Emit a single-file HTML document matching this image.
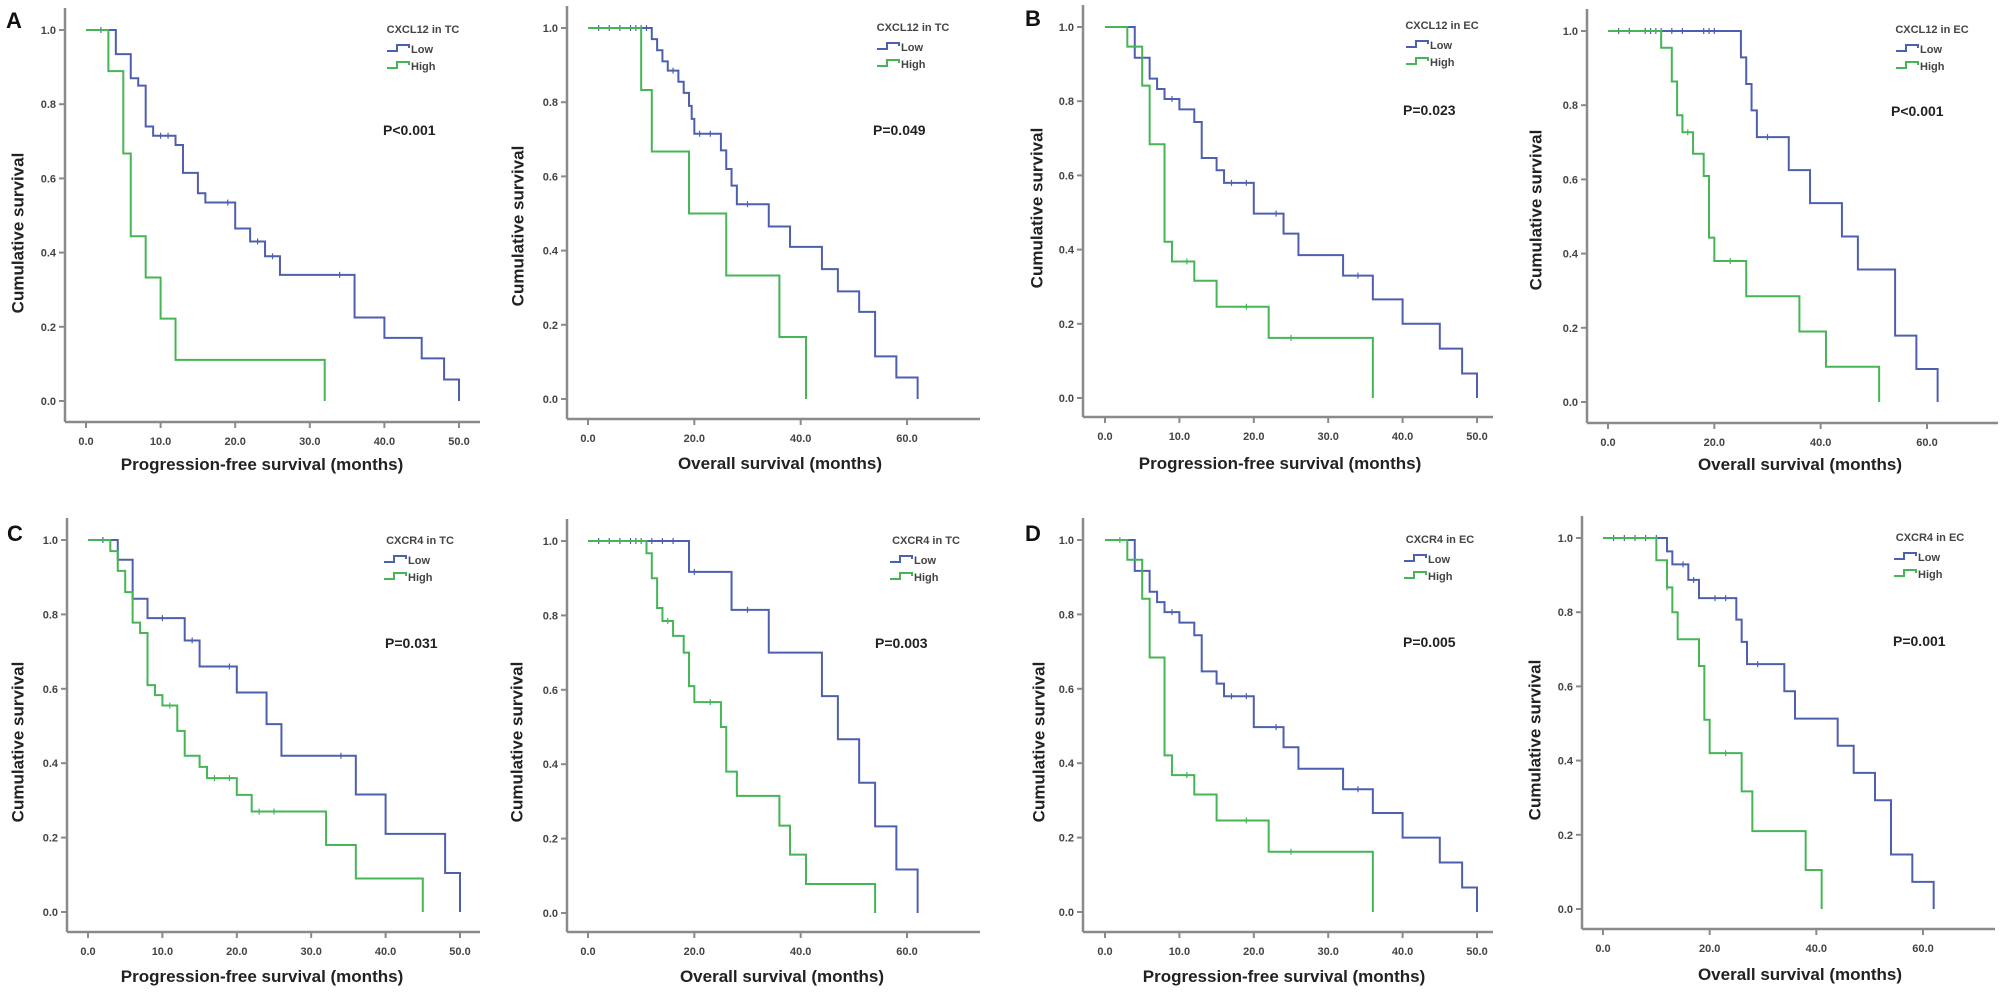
<!DOCTYPE html>
<html><head><meta charset="utf-8">
<style>
html,body{margin:0;padding:0;background:#fff;}
svg{display:block;}
text{font-family:"Liberation Sans",Arial,sans-serif;}
</style></head>
<body>
<svg id="fig" width="2008" height="992" viewBox="0 0 2008 992" xmlns="http://www.w3.org/2000/svg"></svg>
<script>
// ---- data: event times (months) and survival after each drop; censor times ----
const aPfsLowT=[4,6,7,8,9,12,13,15,16,20,22,24,26,36,40,45,48,50];
const aPfsLowS=[0.935,0.87,0.85,0.74,0.715,0.69,0.615,0.56,0.535,0.465,0.43,0.39,0.34,0.225,0.17,0.115,0.058,0];
const aPfsLowC=[2,10,11,19,23,25,34];
const aPfsHighT=[3,5,6,8,10,12,32];
const aPfsHighS=[0.889,0.667,0.444,0.333,0.222,0.111,0];
const aPfsHighC=[];
const aOsLowT=[12,13,14,15,17,18,19,19.5,20,25,26,27,28,34,38,44,47,51,54,58,62];
const aOsLowS=[0.97,0.94,0.91,0.885,0.855,0.825,0.79,0.755,0.715,0.67,0.62,0.575,0.525,0.465,0.41,0.35,0.29,0.235,0.115,0.058,0];
const aOsLowC=[2,4,6,8,9,10,11,16,21,23,30];
const aOsHighT=[10,12,19,26,36,41];
const aOsHighS=[0.833,0.667,0.5,0.333,0.167,0];
const aOsHighC=[];
const bPfsLowT=[4,6,7,8,10,12,13,15,16,20,24,26,32,36,40,45,48,50];
const bPfsLowS=[0.917,0.861,0.833,0.806,0.778,0.744,0.647,0.614,0.58,0.497,0.443,0.385,0.33,0.266,0.2,0.133,0.066,0];
const bPfsLowC=[9,17,19,23,34];
const bPfsHighT=[3,5,6,8,9,12,15,22,36];
const bPfsHighS=[0.947,0.842,0.684,0.421,0.368,0.316,0.246,0.162,0];
const bPfsHighC=[11,19,25];
const bOsLowT=[25,26,27,28,34,38,44,47,54,58,62];
const bOsLowS=[0.929,0.857,0.786,0.714,0.625,0.536,0.446,0.357,0.179,0.089,0];
const bOsLowC=[2,4,7,8,9,10,12,14,18,19,20,30];
const bOsHighT=[10,12,13,14,16,18,19,20,26,36,41,51];
const bOsHighS=[0.955,0.864,0.773,0.727,0.669,0.609,0.443,0.38,0.285,0.19,0.095,0];
const bOsHighC=[15,23];
const cPfsLowT=[4,6,8,13,15,20,24,26,36,40,48,50];
const cPfsLowS=[0.947,0.842,0.79,0.73,0.66,0.59,0.505,0.42,0.316,0.21,0.105,0];
const cPfsLowC=[2,10,14,19,34];
const cPfsHighT=[3,4,5,6,7,8,9,10,12,13,15,16,20,22,32,36,45];
const cPfsHighS=[0.97,0.917,0.86,0.778,0.75,0.61,0.583,0.555,0.487,0.42,0.39,0.36,0.315,0.27,0.18,0.09,0];
const cPfsHighC=[11,17,19,23,25];
const cOsLowT=[19,27,34,44,47,51,54,58,62];
const cOsLowS=[0.917,0.815,0.7,0.583,0.467,0.35,0.233,0.117,0];
const cOsLowC=[2,4,6,8,9,10,12,14,16,20,30];
const cOsHighT=[11,12,13,14,16,18,19,20,25,26,28,36,38,41,54];
const cOsHighS=[0.967,0.9,0.82,0.785,0.745,0.7,0.61,0.567,0.5,0.38,0.315,0.235,0.157,0.078,0];
const cOsHighC=[10,15,23];
const dPfsLowT=[4,6,7,8,10,12,13,15,16,20,24,26,32,36,40,45,48,50];
const dPfsLowS=[0.917,0.861,0.833,0.806,0.778,0.744,0.647,0.614,0.58,0.497,0.443,0.385,0.33,0.266,0.2,0.133,0.066,0];
const dPfsLowC=[9,17,19,23,34];
const dPfsHighT=[3,5,6,8,9,12,15,22,36];
const dPfsHighS=[0.947,0.842,0.684,0.421,0.368,0.316,0.246,0.162,0];
const dPfsHighC=[2,11,19,25];
const dOsLowT=[12,13,16,18,25,26,27,34,36,44,47,51,54,58,62];
const dOsLowS=[0.964,0.929,0.887,0.838,0.78,0.72,0.66,0.587,0.513,0.44,0.367,0.293,0.147,0.073,0];
const dOsLowC=[2,4,6,8,10,15,17,21,23,29];
const dOsHighT=[10,12,13,14,18,19,20,26,28,38,41];
const dOsHighS=[0.94,0.867,0.8,0.727,0.655,0.51,0.42,0.317,0.21,0.105,0];
const dOsHighC=[12,23];
const pfsTicks=[0,10,20,30,40,50];
const osTicks=[0,20,40,60];
const yTicks=[0,0.2,0.4,0.6,0.8,1.0];

const NS="http://www.w3.org/2000/svg";
const svg=document.getElementById('fig');
function mk(tag,attrs,parent){const e=document.createElementNS(NS,tag);for(const k in attrs)e.setAttribute(k,attrs[k]);(parent||svg).appendChild(e);return e;}

const BLUE="#4f5fb0", GREEN="#45b556", AX="#8a8a8a";

const panels=[
 {id:'a-pfs',ax:65,x0:86,x1:459,xmax:50,y1:30,y0:401,bot:422,right:480,ticks:pfsTicks,xt:'Progression-free survival (months)',xtx:262,xty:470,ytx:18,yty:233,leg:'CXCL12 in TC',lx:423,ly:33,p:'P<0.001',px:383,py:135,low:[aPfsLowT,aPfsLowS,aPfsLowC],high:[aPfsHighT,aPfsHighS,aPfsHighC]},
 {id:'a-os',ax:567,x0:588,x1:907,xmax:60,y1:28,y0:399,bot:419,right:980,ticks:osTicks,xt:'Overall survival (months)',xtx:780,xty:469,ytx:518,yty:226,leg:'CXCL12 in TC',lx:913,ly:31,p:'P=0.049',px:873,py:135,low:[aOsLowT,aOsLowS,aOsLowC],high:[aOsHighT,aOsHighS,aOsHighC]},
 {id:'b-pfs',ax:1083,x0:1105,x1:1477,xmax:50,y1:27,y0:398,bot:417,right:1493,ticks:pfsTicks,xt:'Progression-free survival (months)',xtx:1280,xty:469,ytx:1037,yty:208,leg:'CXCL12 in EC',lx:1442,ly:29,p:'P=0.023',px:1403,py:115,low:[bPfsLowT,bPfsLowS,bPfsLowC],high:[bPfsHighT,bPfsHighS,bPfsHighC]},
 {id:'b-os',ax:1587,x0:1608,x1:1927,xmax:60,y1:31,y0:402,bot:423,right:1998,ticks:osTicks,xt:'Overall survival (months)',xtx:1800,xty:470,ytx:1536,yty:210,leg:'CXCL12 in EC',lx:1932,ly:33,p:'P<0.001',px:1891,py:116,low:[bOsLowT,bOsLowS,bOsLowC],high:[bOsHighT,bOsHighS,bOsHighC]},
 {id:'c-pfs',ax:67,x0:88,x1:460,xmax:50,y1:540,y0:912,bot:932,right:480,ticks:pfsTicks,xt:'Progression-free survival (months)',xtx:262,xty:982,ytx:18,yty:742,leg:'CXCR4 in TC',lx:420,ly:544,p:'P=0.031',px:385,py:648,low:[cPfsLowT,cPfsLowS,cPfsLowC],high:[cPfsHighT,cPfsHighS,cPfsHighC]},
 {id:'c-os',ax:567,x0:588,x1:907,xmax:60,y1:541,y0:913,bot:932,right:980,ticks:osTicks,xt:'Overall survival (months)',xtx:782,xty:982,ytx:517,yty:742,leg:'CXCR4 in TC',lx:926,ly:544,p:'P=0.003',px:875,py:648,low:[cOsLowT,cOsLowS,cOsLowC],high:[cOsHighT,cOsHighS,cOsHighC]},
 {id:'d-pfs',ax:1083,x0:1105,x1:1477,xmax:50,y1:540,y0:912,bot:932,right:1493,ticks:pfsTicks,xt:'Progression-free survival (months)',xtx:1284,xty:982,ytx:1039,yty:742,leg:'CXCR4 in EC',lx:1440,ly:543,p:'P=0.005',px:1403,py:647,low:[dPfsLowT,dPfsLowS,dPfsLowC],high:[dPfsHighT,dPfsHighS,dPfsHighC]},
 {id:'d-os',ax:1582,x0:1603,x1:1923,xmax:60,y1:538,y0:909,bot:929,right:1995,ticks:osTicks,xt:'Overall survival (months)',xtx:1800,xty:980,ytx:1535,yty:740,leg:'CXCR4 in EC',lx:1930,ly:541,p:'P=0.001',px:1893,py:646,low:[dOsLowT,dOsLowS,dOsLowC],high:[dOsHighT,dOsHighS,dOsHighC]}
];

function survAt(T,S,t){let s=1;for(let i=0;i<T.length;i++){if(T[i]<=t)s=S[i];}return s;}

panels.forEach(P=>{
  const g=mk('g',{});
  
  
  const X=v=>P.x0+(P.x1-P.x0)*v/P.xmax;
  const Y=v=>P.y0-(P.y0-P.y1)*v;
  // axes
  const ya=mk('line',{x1:P.ax,y1:P.y1-22,x2:P.ax,y2:P.bot,stroke:AX,'stroke-width':2.5},g);
  
  const xa=mk('line',{x1:P.ax,y1:P.bot,x2:P.right,y2:P.bot,stroke:AX,'stroke-width':2.5},g);
  
  yTicks.forEach(v=>{
    mk('line',{x1:P.ax-6,y1:Y(v),x2:P.ax,y2:Y(v),stroke:AX,'stroke-width':2},g);
    const t=mk('text',{x:P.ax-9,y:Y(v)+4,'text-anchor':'end','font-size':11,'font-weight':'bold',fill:'#444'},g);
    t.textContent=v.toFixed(1);
    
  });
  P.ticks.forEach(v=>{
    mk('line',{x1:X(v),y1:P.bot,x2:X(v),y2:P.bot+6,stroke:AX,'stroke-width':2},g);
    const t=mk('text',{x:X(v),y:P.bot+23,'text-anchor':'middle','font-size':11,'font-weight':'bold',fill:'#444'},g);
    t.textContent=v.toFixed(1);
    
  });
  const xt=mk('text',{x:P.xtx,y:P.xty,'text-anchor':'middle','font-size':17,'font-weight':'bold',fill:'#222'},g);
  xt.textContent=P.xt;
  
  const yt=mk('text',{x:P.ytx,y:P.yty,'text-anchor':'middle','font-size':17,'font-weight':'bold',fill:'#222',transform:`rotate(-90 ${P.ytx} ${P.yty})`,'dominant-baseline':'central'},g);
  yt.textContent='Cumulative survival';
  
  // series
  [[P.low,BLUE,'low'],[P.high,GREEN,'high']].forEach(([d,col,nm])=>{
    const [T,S,C]=d;
    let path=`M${X(0)},${Y(1)}`;let prev=1;
    for(let i=0;i<T.length;i++){path+=` H${X(T[i])} V${Y(S[i])}`;prev=S[i];}
    const p=mk('path',{d:path,fill:'none',stroke:col,'stroke-width':2},g);
    
    C.forEach(c=>{
      const s=survAt(T,S,c);
      const m=mk('line',{x1:X(c),y1:Y(s)-3,x2:X(c),y2:Y(s)+3,stroke:col,'stroke-width':1.2},g);
      
    });
  });
  // legend
  const lt=mk('text',{x:P.lx,y:P.ly,'text-anchor':'middle','font-size':11,'font-weight':'bold',fill:'#444'},g);
  lt.textContent=P.leg;
  
  const ix=P.lx-36;
  [[BLUE,'Low',P.ly+18],[GREEN,'High',P.ly+35]].forEach(([col,lab,yy])=>{
    const ic=mk('path',{d:`M${ix},${yy} H${ix+10} V${yy-6} H${ix+22} V${yy-3}`,fill:'none',stroke:col,'stroke-width':2},g);
    
    const tx=mk('text',{x:ix+24,y:yy+2,'font-size':11,'font-weight':'bold',fill:'#444'},g);
    tx.textContent=lab;
    
  });
  const pv=mk('text',{x:P.px,y:P.py,'font-size':14,'font-weight':'bold',fill:'#222'},g);
  pv.textContent=P.p;
  
});

[['A',6,28],['B',1025,26],['C',7,541],['D',1025,541]].forEach(([l,x,y])=>{
  const t=mk('text',{x:x,y:y,'font-size':22,'font-weight':'bold',fill:'#111','font-family':'"Liberation Serif",serif'});
  t.textContent=l;
  
  
});
</script>
</body></html>
